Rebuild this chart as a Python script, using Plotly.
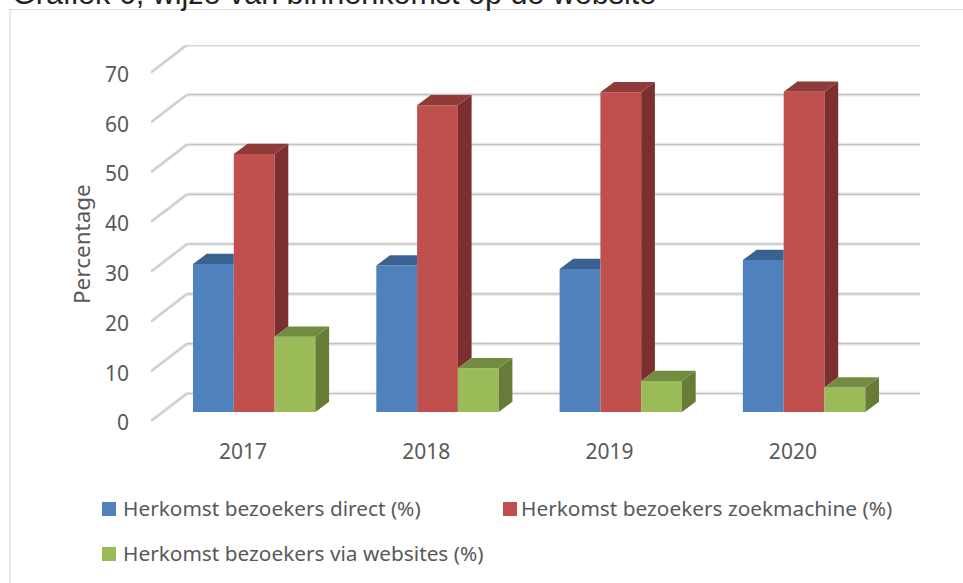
import plotly.graph_objects as go

years = ["2017", "2018", "2019", "2020"]
series_names = ["Herkomst bezoekers direct (%)", "Herkomst bezoekers zoekmachine (%)", "Herkomst bezoekers via websites (%)"]
direct = [29.7, 29.4, 28.7, 30.5]
zoekmachine = [51.8, 61.6, 64.2, 64.3]
websites = [15.1, 8.8, 6.2, 4.9]
y_ticks = [0, 10, 20, 30, 40, 50, 60, 70]

front_colors = ["#4F81BD", "#C0504D", "#9BBB59"]
top_colors = ["#3A6291", "#8F3B39", "#728C42"]
side_colors = ["#32557F", "#7B2F2E", "#667C37"]

W, H = 963, 583
left, right, top, bottom = 151, 920, 45, 421
px_per_unit = 4.98
px_per_cat = 183.3
x0_px = 243

x_range = [(left - x0_px) / px_per_cat, (right - x0_px) / px_per_cat]
y_range = [0, (bottom - top) / px_per_unit]
bar_w = 40.8 / px_per_cat
bar_start = (193 - x0_px) / px_per_cat
floor_y = 9 / px_per_unit
dx = 13.7 / px_per_cat
dy = 10.3 / px_per_unit
wall_dx = 36 / px_per_cat
wall_dy = 27.5 / px_per_unit

def px_x(p):
    return (p - left) / (right - left)

def px_y(p):
    return (bottom - p) / (bottom - top)

xs = list(range(len(years)))
all_vals = [direct, zoekmachine, websites]
fig = go.Figure()

for s, vals in enumerate(all_vals):
    fig.add_trace(go.Bar(
        x=xs, y=vals, base=[floor_y] * len(vals), width=bar_w,
        offset=bar_start + s * bar_w, name=series_names[s], showlegend=False,
        marker=dict(color=front_colors[s], line=dict(width=0)),
    ))

for s, vals in enumerate(all_vals):
    for i, v in enumerate(vals):
        xl = i + bar_start + s * bar_w
        xr = xl + bar_w
        t = floor_y + v
        nxt = all_vals[s + 1][i] if s < 2 else None
        low = floor_y if nxt is None else floor_y + nxt
        if low < t:
            fig.add_trace(go.Scatter(
                x=[xr, xr + dx, xr + dx, xr, xr],
                y=[t, t + dy, low + dy, low, t],
                mode="lines", fill="toself", fillcolor=side_colors[s],
                line=dict(width=0), showlegend=False, hoverinfo="skip"))
        if nxt is not None and nxt > v:
            tx = [xl, xr, xr, xl + dx, xl]
        else:
            tx = [xl, xr, xr + dx, xl + dx, xl]
        ty = [t, t, t + dy, t + dy, t]
        fig.add_trace(go.Scatter(
            x=tx, y=ty, mode="lines", fill="toself", fillcolor=top_colors[s],
            line=dict(width=0), showlegend=False, hoverinfo="skip"))

shapes = []
for v in y_ticks:
    path = [(x_range[0], v), (x_range[0] + wall_dx, v + wall_dy), (x_range[1], v + wall_dy)]
    for width, color in ((3.5, "#E6E6E6"), (1.2, "#C4C4C4")):
        for (a, b), (c, d) in zip(path[:-1], path[1:]):
            shapes.append(dict(type="line", xref="x", yref="y", x0=a, y0=b, x1=c, y1=d,
                               layer="below", line=dict(color=color, width=width)))
shapes.append(dict(type="line", xref="paper", yref="paper", x0=px_x(10), x1=px_x(W),
                   y0=px_y(9.5), y1=px_y(9.5), line=dict(color="#D9D9D9", width=1.2)))
shapes.append(dict(type="line", xref="paper", yref="paper", x0=px_x(10), x1=px_x(10),
                   y0=px_y(9.5), y1=px_y(H), line=dict(color="#D9D9D9", width=1.2)))

font = "Noto Sans"
tick_col = "#595959"

legend_swatches = [(102, 502), (503, 502), (102, 547)]
legend_text_pos = [(122, 508), (520, 508), (122, 553)]
annotations = [dict(text="Percentage", textangle=-90, xref="paper", yref="paper",
                    x=px_x(81), y=px_y(244), xanchor="center", yanchor="middle",
                    showarrow=False, font=dict(family=font, size=22.5, color=tick_col))]
for s, name in enumerate(series_names):
    sx, sy = legend_swatches[s]
    shapes.append(dict(type="rect", xref="paper", yref="paper", x0=px_x(sx), x1=px_x(sx + 14),
                       y0=px_y(sy), y1=px_y(sy + 14), fillcolor=front_colors[s], line=dict(width=0)))
    tx, ty = legend_text_pos[s]
    annotations.append(dict(text=name, xref="paper", yref="paper", x=px_x(tx), y=px_y(ty),
                            xanchor="left", yanchor="middle", xshift=-1, showarrow=False,
                            font=dict(family=font, size=20.8, color=tick_col)))

fig.update_layout(
    width=W, height=H, autosize=False,
    margin=dict(l=left, r=W - right, t=top, b=H - bottom),
    paper_bgcolor="white", plot_bgcolor="white",
    barmode="overlay", shapes=shapes, showlegend=False, annotations=annotations,
    title=dict(text="Grafiek 6, wijze van binnenkomst op de website",
               x=12 / W, xanchor="left", y=1, yanchor="top", pad=dict(t=-17),
               font=dict(family="Liberation Sans", size=30.5, color="#222222")),
    xaxis=dict(range=x_range, tickmode="array", tickvals=xs, ticktext=years,
               showgrid=False, zeroline=False, showline=False, ticks="",
               ticklabelstandoff=16, tickfont=dict(family=font, size=21, color=tick_col)),
    yaxis=dict(range=y_range, tickmode="array", tickvals=y_ticks,
               showgrid=False, zeroline=False, showline=False, ticks="",
               ticklabelstandoff=21, ticklabelshift=2,
               tickfont=dict(family=font, size=21, color=tick_col)),
)
fig.write_html("out.html", config=dict(displayModeBar=False),
               post_script="document.body.style.margin='0';document.body.style.overflow='hidden';")
